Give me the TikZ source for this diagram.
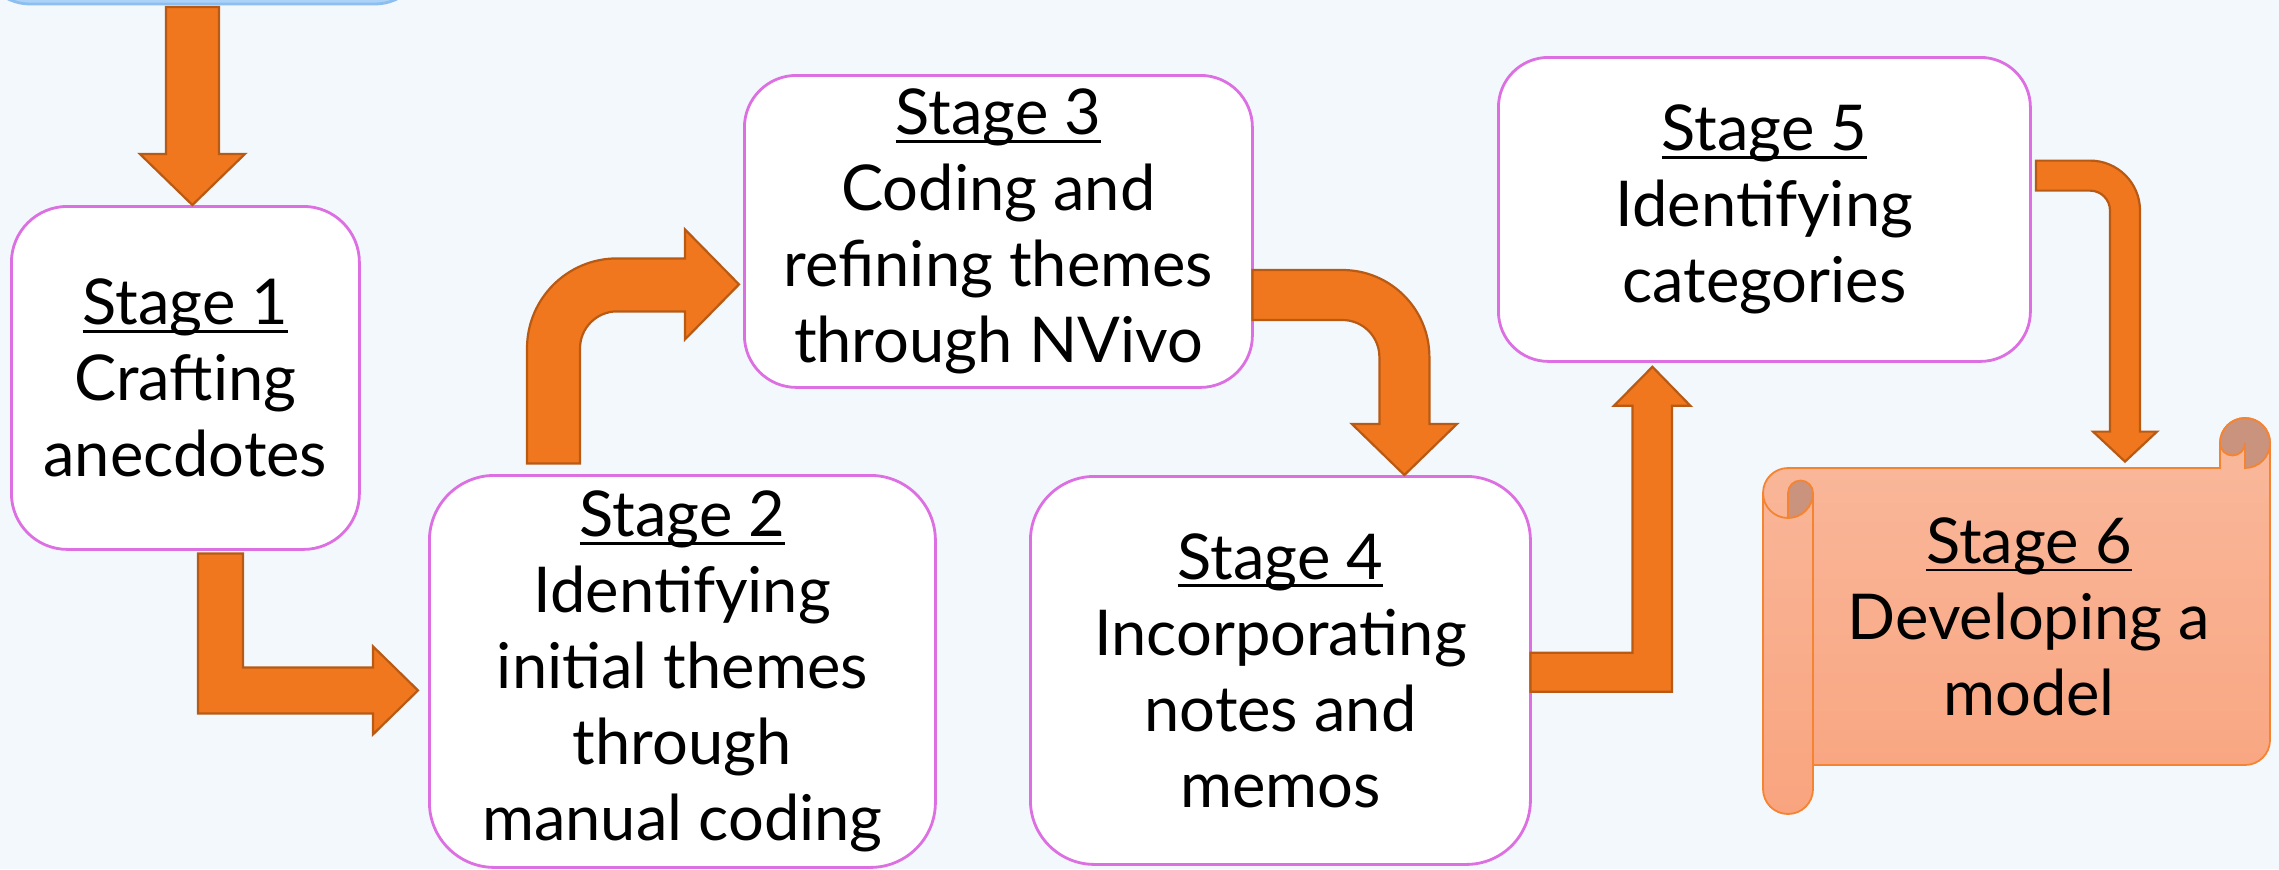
\documentclass[tikz,border=0pt]{standalone}
\usepackage{fontspec}
\setmainfont{Lato}
\usepackage{tikz}
\usetikzlibrary{calc}

\newcommand{\stagetitle}[1]{\setbox0\hbox{#1}\rlap{\rule[-0.13em]{\wd0}{0.045em}}\box0}
\newcommand{\stagesize}{\fontsize{31.6}{38}\selectfont}

\begin{document}
\begin{tikzpicture}[x=0.5pt,y=0.5pt,yscale=-1,xscale=1,
        stagebox/.style={draw={rgb, 255:red, 220; green, 112; blue, 226}, line width=1.4pt, fill=white, align=center, inner sep=0pt, anchor=north west, font=\stagesize},
        blockarrow/.style={fill={rgb, 255:red, 240; green, 119; blue, 29}, draw={rgb, 255:red, 184; green, 90; blue, 20}, line width=1.1pt, line join=miter},
        scrollbody/.style={top color={rgb, 255:red, 249; green, 185; blue, 156}, bottom color={rgb, 255:red, 249; green, 164; blue, 127}, draw={rgb, 255:red, 245; green, 132; blue, 50}, line width=0.9pt},
        scrollcurl/.style={fill={rgb, 255:red, 201; green, 147; blue, 126}, draw={rgb, 255:red, 245; green, 132; blue, 50}, line width=0.9pt},
        scrolledge/.style={draw={rgb, 255:red, 245; green, 132; blue, 50}, line width=0.9pt}]
        \useasboundingbox (0,0) rectangle (2279,869);
        \clip (0,0) rectangle (2279,869);
        \fill [fill={rgb, 255:red, 243; green, 248; blue, 252}] (0,0) rectangle (2279,869);

        % Top box (cut off)
        \node [draw={rgb, 255:red, 140; green, 190; blue, 240}, fill={rgb, 255:red, 172; green, 211; blue, 247}, line width=1.4pt, rounded corners=25pt, minimum width=222.5pt, minimum height=50pt, inner sep=0pt] (s0) at (202.5,-46) {};

        % Stage boxes
        \node [stagebox, minimum width=174pt, minimum height=171.5pt, rounded corners=28pt] (s1) at (10,205) {\stagetitle{Stage 1}\\Crafting\\anecdotes};
        \node [stagebox, minimum width=253pt, minimum height=196pt, rounded corners=32.5pt] (s2) at (428,474) {\stagetitle{Stage 2}\\Identifying\\initial themes\\through\\manual coding};
        \node [stagebox, minimum width=254pt, minimum height=156pt, rounded corners=26pt] (s3) at (743,74) {\stagetitle{Stage 3}\\Coding and\\refining themes\\through NVivo};
        \node [stagebox, minimum width=250pt, minimum height=194pt, rounded corners=32pt] (s4) at (1029,475) {\stagetitle{Stage 4}\\Incorporating\\notes and\\memos};
        \node [stagebox, minimum width=266pt, minimum height=152pt, rounded corners=25pt] (s5) at (1497,56) {\stagetitle{Stage 5}\\Identifying\\categories};

        % Scroll
        \draw [scrollbody] (1763,493) arc[start angle=180, end angle=270, radius=25] -- (2220,468) -- (2220,443) arc[start angle=180, end angle=360, radius=25] -- (2270,740) arc[start angle=0, end angle=90, radius=25] -- (1813,765) -- (1813,789) arc[start angle=0, end angle=180, radius=25] -- cycle;
        \draw [scrollcurl] (2220,443) arc[start angle=180, end angle=450, radius=25] -- (2245,443) arc[start angle=0, end angle=180, radius=12.5] -- cycle;
        \draw [scrollcurl] (1788,493) arc[start angle=180, end angle=360, radius=12.5] arc[start angle=0, end angle=90, radius=25] -- cycle;
        \draw [scrolledge] (1763,493) arc[start angle=180, end angle=90, radius=25];
        \draw [scrolledge] (1813,493) -- (1813,765);
        \node [font=\stagesize, align=center, inner sep=0pt, minimum width=241pt, minimum height=148.5pt] (s6) at (2029,616.5) {\stagetitle{Stage 6}\\Developing a\\model};

        % Block arrows
        \draw [blockarrow] ($(s1.north)+(7,0)$) -- ++(52.5,-51) -- ++(-26,0) -- ++(0,-147) -- ++(-53,0) -- ++(0,147) -- ++(-26,0) -- cycle;
        \draw [blockarrow] ($(s2.west)+(-10,19)$) -- ++(-45,-44) -- ++(0,21) -- ++(-130,0) -- ++(0,-114) -- ++(-45,0) -- ++(0,160) -- ++(175,0) -- ++(0,21) -- cycle;
        \draw [blockarrow] ($(s3.west)+(-4,53)$) -- ++(-54,55) -- ++(0,-28) -- ++(-68,0) arc[start angle=270, end angle=180, radius=37] -- ++(0,115) -- ++(-53,0) -- ++(0,-115) arc[start angle=180, end angle=270, radius=90] -- ++(68,0) -- ++(0,-29) -- cycle;
        \draw [blockarrow] ($(s4.north)+(124,0)$) -- ++(52.5,-51) -- ++(-27.5,0) -- ++(0,-67) arc[start angle=0, end angle=-90, radius=87] -- ++(-90,0) -- ++(0,50) -- ++(90,0) arc[start angle=-90, end angle=0, radius=37] -- ++(0,67) -- ++(-27.5,0) -- cycle;
        \draw [blockarrow] ($(s5.south)+(-112,4)$) -- ++(38,39) -- ++(-18.5,0) -- ++(0,286) -- ++(-141.5,0) -- ++(0,-39) -- ++(102,0) -- ++(0,-247) -- ++(-18.5,0) -- cycle;
        \draw [blockarrow] ($(s6.north)+(96,-6)$) -- ++(32,-30) -- ++(-17,0) -- ++(0,-221) arc[start angle=0, end angle=-90, radius=50] -- ++(-54,0) -- ++(0,30) -- ++(54,0) arc[start angle=-90, end angle=0, radius=20] -- ++(0,221) -- ++(-17,0) -- cycle;
\end{tikzpicture}
\end{document}
